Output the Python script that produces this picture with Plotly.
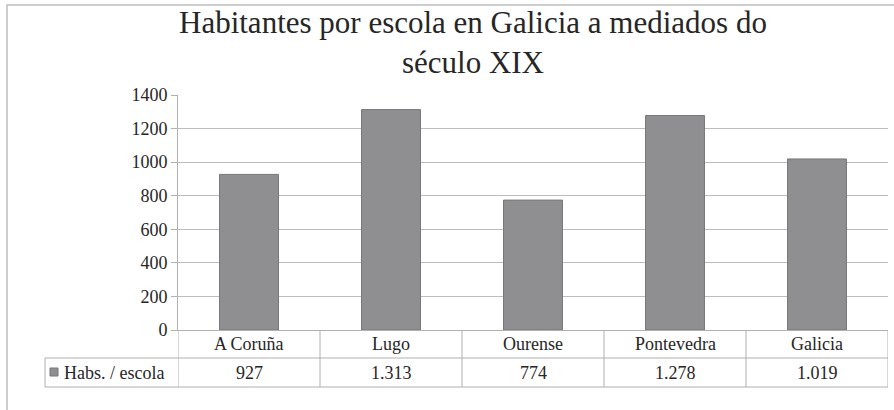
import plotly.graph_objects as go

categories = ["A Coruña", "Lugo", "Ourense", "Pontevedra", "Galicia"]
values = [927, 1313, 774, 1278, 1019]
series_name = "Habs. / escola"
title_text = "Habitantes por escola en Galicia a mediados do<br>século XIX"
y_ticks = [0, 200, 400, 600, 800, 1000, 1200, 1400]

W, H = 894, 410
L, R, T, B = 178, 6, 95, 80
PW = W - L - R
PH = H - T - B
FONT = "Liberation Serif, Times New Roman, Tinos, serif"
TXT = "#262626"
GRID = "#bdbdbd"
LINE = "#b0b0b0"
BAR = "#8f8f92"
BAR_EDGE = "#77777a"


def px(x):
    return (x - L) / PW


def py(y):
    return (H - B - y) / PH


def fmt(v):
    return f"{v:,}".replace(",", ".")


fig = go.Figure()
fig.add_trace(go.Bar(
    x=categories, y=values, name=series_name,
    marker=dict(color=BAR, line=dict(color=BAR_EDGE, width=1)),
    showlegend=False,
))

shapes = []
annotations = []

row_top = H - B
row_mid = 358
row_bot = 387
n = len(categories)
for i in range(n + 1):
    shapes.append(dict(type="line", xref="x", yref="paper",
                       x0=i - 0.5, x1=i - 0.5, y0=py(row_top), y1=py(row_bot),
                       line=dict(color=LINE, width=1)))
for yy in (row_mid, row_bot):
    shapes.append(dict(type="line", xref="paper", yref="paper",
                       x0=px(45), x1=1, y0=py(yy), y1=py(yy),
                       line=dict(color=LINE, width=1)))
shapes.append(dict(type="line", xref="paper", yref="paper",
                   x0=px(45), x1=px(45), y0=py(row_mid), y1=py(row_bot),
                   line=dict(color=LINE, width=1)))
shapes.append(dict(type="rect", xref="paper", yref="paper",
                   x0=px(50), x1=px(58), y0=py(368), y1=py(376),
                   fillcolor=BAR, line=dict(color=BAR_EDGE, width=1)))
shapes.append(dict(type="rect", xref="paper", yref="paper",
                   x0=px(7), x1=px(W + 20), y0=py(5), y1=py(H + 20),
                   line=dict(color="#bdbdbd", width=1.5), layer="below"))

for c, v in zip(categories, values):
    annotations.append(dict(x=c, xref="x", y=py((row_top + row_mid) / 2), yref="paper",
                            text=c, showarrow=False, yanchor="middle", xanchor="center",
                            font=dict(family=FONT, size=18, color=TXT)))
    annotations.append(dict(x=c, xref="x", y=py((row_mid + row_bot) / 2), yref="paper",
                            text=fmt(v), showarrow=False, yanchor="middle", xanchor="center",
                            font=dict(family=FONT, size=18, color=TXT)))
annotations.append(dict(x=px(62), xref="paper", y=py((row_mid + row_bot) / 2), yref="paper",
                        text=series_name, showarrow=False, yanchor="middle", xanchor="left",
                        font=dict(family=FONT, size=18, color=TXT)))
annotations.append(dict(x=px(473), xref="paper", y=py(43), yref="paper",
                        text=title_text, showarrow=False, yanchor="middle", xanchor="center",
                        font=dict(family=FONT, size=31, color=TXT)))

fig.update_layout(
    width=W, height=H,
    margin=dict(l=L, r=R, t=T, b=B, pad=0),
    paper_bgcolor="white", plot_bgcolor="white",
    font=dict(family=FONT, color=TXT),
    bargap=0.585,
    shapes=shapes, annotations=annotations,
    xaxis=dict(type="category", range=[-0.5, n - 0.5], showticklabels=False,
               ticks="", showline=True, linecolor=LINE, linewidth=1,
               showgrid=False, zeroline=False, fixedrange=True),
    yaxis=dict(range=[0, 1400], tickvals=y_ticks, showline=True, linecolor=LINE,
               linewidth=1, ticks="outside", ticklen=6, tickcolor=LINE,
               gridcolor=GRID, gridwidth=1, zeroline=False,
               tickfont=dict(family=FONT, size=18, color=TXT), fixedrange=True),
    showlegend=False,
)

fig.write_html("out.html", config={"displayModeBar": False},
               post_script="document.body.style.margin='0';document.body.style.overflow='hidden';")
